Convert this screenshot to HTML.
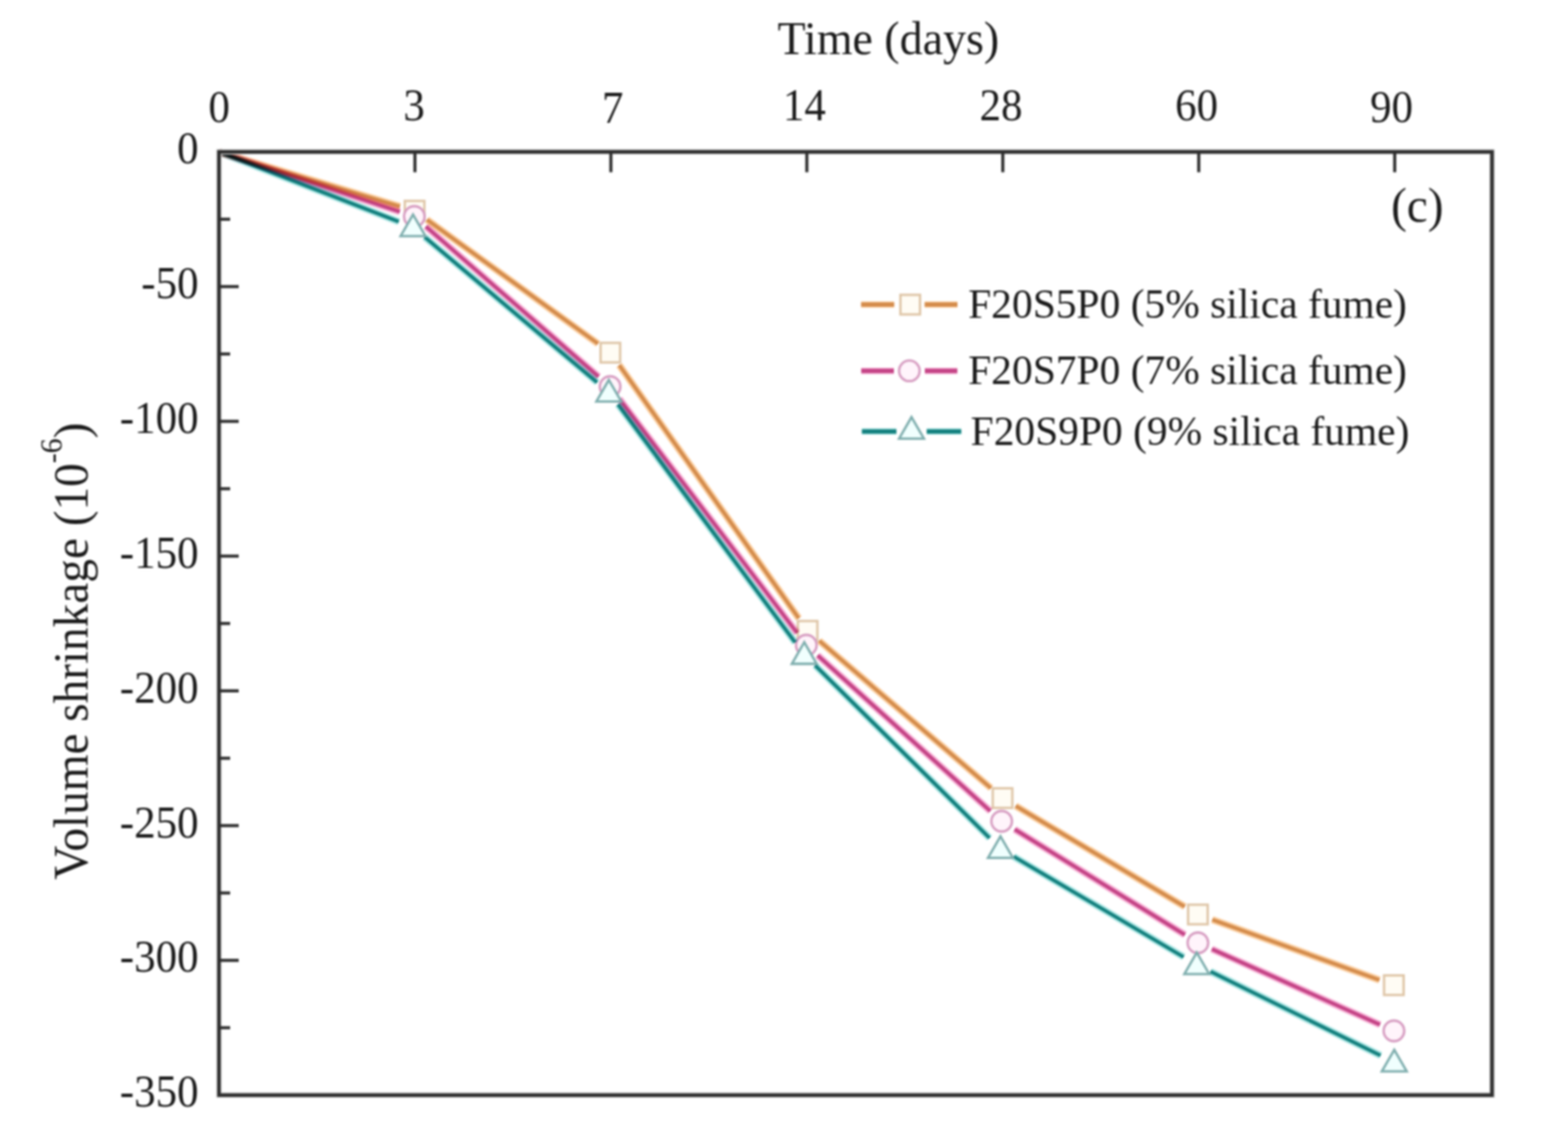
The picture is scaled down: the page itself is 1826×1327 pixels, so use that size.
<!DOCTYPE html>
<html><head><meta charset="utf-8"><title>Volume shrinkage chart</title>
<style>html,body{margin:0;padding:0;background:#fff;width:1826px;height:1327px;overflow:hidden}svg{display:block}#w{filter:blur(0.8px)}</style>
</head><body><div id="w">
<svg width="1826" height="1327" viewBox="0 0 1826 1327">
<rect width="1826" height="1327" fill="#fff"/>
<g style="mix-blend-mode:multiply"><path d="M255.00,177.00L465.75,240.19 M497.21,255.74L696.39,400.06 M721.10,425.02L930.20,719.78 M954.01,745.89L1153.99,917.41 M1182.79,938.11L1379.71,1055.39 M1411.74,1070.54L1606.46,1140.76" fill="none" stroke="#FBCFA2" stroke-width="8.4"/><path d="M255.00,177.00L465.75,240.19 M497.21,255.74L696.39,400.06 M721.10,425.02L930.20,719.78 M954.01,745.89L1153.99,917.41 M1182.79,938.11L1379.71,1055.39 M1411.74,1070.54L1606.46,1140.76" fill="none" stroke="#D48C4C" stroke-width="4.2"/></g>
<rect x="471.4" y="233.9" width="22.8" height="22.8" fill="#FFFCF4" stroke="#DFC6A8" stroke-width="2.8"/>
<rect x="699.4" y="399.1" width="22.8" height="22.8" fill="#FFFCF4" stroke="#DFC6A8" stroke-width="2.8"/>
<rect x="929.1" y="722.9" width="22.8" height="22.8" fill="#FFFCF4" stroke="#DFC6A8" stroke-width="2.8"/>
<rect x="1156.1" y="917.6" width="22.8" height="22.8" fill="#FFFCF4" stroke="#DFC6A8" stroke-width="2.8"/>
<rect x="1383.6" y="1053.1" width="22.8" height="22.8" fill="#FFFCF4" stroke="#DFC6A8" stroke-width="2.8"/>
<rect x="1611.8" y="1135.4" width="22.8" height="22.8" fill="#FFFCF4" stroke="#DFC6A8" stroke-width="2.8"/>
<g style="mix-blend-mode:multiply"><path d="M255.00,177.00L465.59,246.43 M495.94,263.67L697.06,438.33 M721.26,464.18L928.24,736.82 M952.22,762.92L1153.28,944.08 M1181.63,965.37L1379.87,1088.13 M1411.24,1104.79L1607.06,1192.71" fill="none" stroke="#F7B2D6" stroke-width="8.4"/><path d="M255.00,177.00L465.59,246.43 M495.94,263.67L697.06,438.33 M721.26,464.18L928.24,736.82 M952.22,762.92L1153.28,944.08 M1181.63,965.37L1379.87,1088.13 M1411.24,1104.79L1607.06,1192.71" fill="none" stroke="#C44486" stroke-width="4.2"/></g>
<circle cx="482.5" cy="252" r="12" fill="#FFF4FB" stroke="#D79EC2" stroke-width="2.8"/>
<circle cx="710.5" cy="450" r="12" fill="#FFF4FB" stroke="#D79EC2" stroke-width="2.8"/>
<circle cx="939" cy="751" r="12" fill="#FFF4FB" stroke="#D79EC2" stroke-width="2.8"/>
<circle cx="1166.5" cy="956" r="12" fill="#FFF4FB" stroke="#D79EC2" stroke-width="2.8"/>
<circle cx="1395" cy="1097.5" r="12" fill="#FFF4FB" stroke="#D79EC2" stroke-width="2.8"/>
<circle cx="1623.3" cy="1200" r="12" fill="#FFF4FB" stroke="#D79EC2" stroke-width="2.8"/>
<g style="mix-blend-mode:multiply"><path d="M255.00,177.00L464.40,258.07 M494.62,275.97L695.38,445.03 M719.63,470.77L925.97,747.73 M949.26,774.52L1152.44,975.48 M1180.43,997.05L1378.37,1113.95 M1409.66,1130.88L1607.74,1228.62" fill="none" stroke="#ADE6E4" stroke-width="8.4"/><path d="M255.00,177.00L464.40,258.07 M494.62,275.97L695.38,445.03 M719.63,470.77L925.97,747.73 M949.26,774.52L1152.44,975.48 M1180.43,997.05L1378.37,1113.95 M1409.66,1130.88L1607.74,1228.62" fill="none" stroke="#13807E" stroke-width="4.2"/></g>
<polygon points="481,249.757 466.5,274.871 495.5,274.871" fill="#F0FFFE" stroke="#7FAEAE" stroke-width="2.8" stroke-linejoin="miter"/>
<polygon points="709,442.257 694.5,467.371 723.5,467.371" fill="#F0FFFE" stroke="#7FAEAE" stroke-width="2.8" stroke-linejoin="miter"/>
<polygon points="936.6,747.657 922.1,772.771 951.1,772.771" fill="#F0FFFE" stroke="#7FAEAE" stroke-width="2.8" stroke-linejoin="miter"/>
<polygon points="1165.1,973.557 1150.6,998.671 1179.6,998.671" fill="#F0FFFE" stroke="#7FAEAE" stroke-width="2.8" stroke-linejoin="miter"/>
<polygon points="1393.7,1108.76 1379.2,1133.87 1408.2,1133.87" fill="#F0FFFE" stroke="#7FAEAE" stroke-width="2.8" stroke-linejoin="miter"/>
<polygon points="1623.7,1221.96 1609.2,1247.07 1638.2,1247.07" fill="#F0FFFE" stroke="#7FAEAE" stroke-width="2.8" stroke-linejoin="miter"/>
<rect x="255" y="176.75" width="1482.5" height="1098" fill="none" stroke="#d8d8d8" stroke-width="6.5"/>
<rect x="255" y="176.75" width="1482.5" height="1098" fill="none" stroke="#2e2e2e" stroke-width="4.2"/>
<line x1="483.2" y1="176.75" x2="483.2" y2="200.5" stroke="#2e2e2e" stroke-width="3.6"/>
<line x1="711.4" y1="176.75" x2="711.4" y2="200.5" stroke="#2e2e2e" stroke-width="3.6"/>
<line x1="939.6" y1="176.75" x2="939.6" y2="200.5" stroke="#2e2e2e" stroke-width="3.6"/>
<line x1="1167.8" y1="176.75" x2="1167.8" y2="200.5" stroke="#2e2e2e" stroke-width="3.6"/>
<line x1="1396" y1="176.75" x2="1396" y2="200.5" stroke="#2e2e2e" stroke-width="3.6"/>
<line x1="1624.2" y1="176.75" x2="1624.2" y2="200.5" stroke="#2e2e2e" stroke-width="3.6"/>
<line x1="255" y1="255.179" x2="268" y2="255.179" stroke="#2e2e2e" stroke-width="3.6"/>
<line x1="255" y1="333.607" x2="278" y2="333.607" stroke="#2e2e2e" stroke-width="3.6"/>
<line x1="255" y1="412.036" x2="268" y2="412.036" stroke="#2e2e2e" stroke-width="3.6"/>
<line x1="255" y1="490.464" x2="278" y2="490.464" stroke="#2e2e2e" stroke-width="3.6"/>
<line x1="255" y1="568.893" x2="268" y2="568.893" stroke="#2e2e2e" stroke-width="3.6"/>
<line x1="255" y1="647.321" x2="278" y2="647.321" stroke="#2e2e2e" stroke-width="3.6"/>
<line x1="255" y1="725.75" x2="268" y2="725.75" stroke="#2e2e2e" stroke-width="3.6"/>
<line x1="255" y1="804.179" x2="278" y2="804.179" stroke="#2e2e2e" stroke-width="3.6"/>
<line x1="255" y1="882.607" x2="268" y2="882.607" stroke="#2e2e2e" stroke-width="3.6"/>
<line x1="255" y1="961.036" x2="278" y2="961.036" stroke="#2e2e2e" stroke-width="3.6"/>
<line x1="255" y1="1039.46" x2="268" y2="1039.46" stroke="#2e2e2e" stroke-width="3.6"/>
<line x1="255" y1="1117.89" x2="278" y2="1117.89" stroke="#2e2e2e" stroke-width="3.6"/>
<line x1="255" y1="1196.32" x2="268" y2="1196.32" stroke="#2e2e2e" stroke-width="3.6"/>
<text transform="translate(255.2,142.3) scale(1,1.045)" font-size="50" text-anchor="middle" font-family="Liberation Serif, Times New Roman, serif" fill="#1a1a1a">0</text>
<text transform="translate(482.2,139.8) scale(1,1.045)" font-size="50" text-anchor="middle" font-family="Liberation Serif, Times New Roman, serif" fill="#1a1a1a">3</text>
<text transform="translate(713.5,143.3) scale(1,1.045)" font-size="50" text-anchor="middle" font-family="Liberation Serif, Times New Roman, serif" fill="#1a1a1a">7</text>
<text transform="translate(936.8,139.8) scale(1,1.045)" font-size="50" text-anchor="middle" font-family="Liberation Serif, Times New Roman, serif" fill="#1a1a1a">14</text>
<text transform="translate(1165.7,139.8) scale(1,1.045)" font-size="50" text-anchor="middle" font-family="Liberation Serif, Times New Roman, serif" fill="#1a1a1a">28</text>
<text transform="translate(1393.5,139.8) scale(1,1.045)" font-size="50" text-anchor="middle" font-family="Liberation Serif, Times New Roman, serif" fill="#1a1a1a">60</text>
<text transform="translate(1620.4,142.3) scale(1,1.045)" font-size="50" text-anchor="middle" font-family="Liberation Serif, Times New Roman, serif" fill="#1a1a1a">90</text>
<text transform="translate(231.2,190.35) scale(1,1.045)" font-size="50" text-anchor="end" font-family="Liberation Serif, Times New Roman, serif" fill="#1a1a1a">0</text>
<text transform="translate(231.2,347.207) scale(1,1.045)" font-size="50" text-anchor="end" font-family="Liberation Serif, Times New Roman, serif" fill="#1a1a1a">-50</text>
<text transform="translate(231.2,504.064) scale(1,1.045)" font-size="50" text-anchor="end" font-family="Liberation Serif, Times New Roman, serif" fill="#1a1a1a">-100</text>
<text transform="translate(231.2,660.921) scale(1,1.045)" font-size="50" text-anchor="end" font-family="Liberation Serif, Times New Roman, serif" fill="#1a1a1a">-150</text>
<text transform="translate(231.2,817.779) scale(1,1.045)" font-size="50" text-anchor="end" font-family="Liberation Serif, Times New Roman, serif" fill="#1a1a1a">-200</text>
<text transform="translate(231.2,974.636) scale(1,1.045)" font-size="50" text-anchor="end" font-family="Liberation Serif, Times New Roman, serif" fill="#1a1a1a">-250</text>
<text transform="translate(231.2,1131.49) scale(1,1.045)" font-size="50" text-anchor="end" font-family="Liberation Serif, Times New Roman, serif" fill="#1a1a1a">-300</text>
<text transform="translate(231.2,1288.35) scale(1,1.045)" font-size="50" text-anchor="end" font-family="Liberation Serif, Times New Roman, serif" fill="#1a1a1a">-350</text>
<text transform="translate(1034.5,63) scale(1,1.04)" font-size="53.5" text-anchor="middle" font-family="Liberation Serif, Times New Roman, serif" fill="#1a1a1a">Time (days)</text>
<text transform="translate(101.5,1024) rotate(-90) scale(1,1.02)" font-size="55" font-family="Liberation Serif, Times New Roman, serif" fill="#1a1a1a">Volume shrinkage (10<tspan font-size="35" dy="-29">-6</tspan><tspan dy="29">)</tspan></text>
<text transform="translate(1620,258) scale(1,1.03)" font-size="55" text-anchor="start" font-family="Liberation Serif, Times New Roman, serif" fill="#1a1a1a">(c)</text>
<path d="M1002.8,354.6H1041.3M1076.8,354.6H1115" stroke="#FBCFA2" stroke-width="7.5"/>
<path d="M1002.8,354.6H1041.3M1076.8,354.6H1115" stroke="#D48C4C" stroke-width="5"/>
<rect x="1048.6" y="343.2" width="22.8" height="22.8" fill="#FFFCF4" stroke="#DFC6A8" stroke-width="2.8"/>
<text transform="translate(1127.5,370.4) scale(1,1.02)" font-size="48.3" text-anchor="start" font-family="Liberation Serif, Times New Roman, serif" fill="#1a1a1a">F20S5P0 (5% silica fume)</text>
<path d="M1002.9,431.7H1041M1077,431.7H1114.8" stroke="#F7B2D6" stroke-width="7.5"/>
<path d="M1002.9,431.7H1041M1077,431.7H1114.8" stroke="#C44486" stroke-width="5"/>
<circle cx="1059" cy="431.7" r="12" fill="#FFF4FB" stroke="#D79EC2" stroke-width="2.8"/>
<text transform="translate(1127.5,446.9) scale(1,1.02)" font-size="48.3" text-anchor="start" font-family="Liberation Serif, Times New Roman, serif" fill="#1a1a1a">F20S7P0 (7% silica fume)</text>
<path d="M1003.7,502.3H1043.9M1079.2,502.3H1119.4" stroke="#ADE6E4" stroke-width="7.5"/>
<path d="M1003.7,502.3H1043.9M1079.2,502.3H1119.4" stroke="#13807E" stroke-width="5"/>
<polygon points="1061.5,485.557 1047,510.671 1076,510.671" fill="#F0FFFE" stroke="#7FAEAE" stroke-width="2.8" stroke-linejoin="miter"/>
<text transform="translate(1130.3,517.5) scale(1,1.02)" font-size="48.3" text-anchor="start" font-family="Liberation Serif, Times New Roman, serif" fill="#1a1a1a">F20S9P0 (9% silica fume)</text>
</svg>
</div></body></html>
